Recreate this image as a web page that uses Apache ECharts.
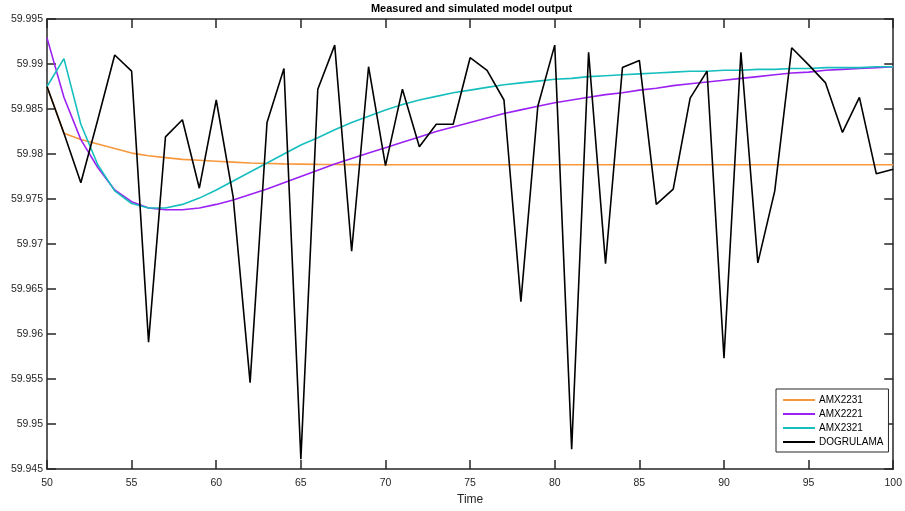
<!DOCTYPE html>
<html>
<head>
<meta charset="utf-8">
<script src="https://cdn.jsdelivr.net/npm/echarts@6/dist/echarts.min.js"></script>
<style>html,body{margin:0;padding:0;background:#fff}#c{width:905px;height:511px}</style>
</head>
<body>
<div id="c"></div>
<script>
const times = [50,51,52,53,54,55,56,57,58,59,60,61,62,63,64,65,66,67,68,69,70,71,72,73,74,75,76,77,78,79,80,81,82,83,84,85,86,87,88,89,90,91,92,93,94,95,96,97,98,99,100];
const amx2231 = [59.9875,59.9823,59.9816,59.9811,59.9806,59.9801,59.9798,59.9796,59.9794,59.9793,59.9792,59.9791,59.9790,59.97895,59.9789,59.97888,59.97885,59.97883,59.97882,59.9788,59.9788,59.9788,59.9788,59.9788,59.9788,59.9788,59.9788,59.9788,59.9788,59.9788,59.9788,59.9788,59.9788,59.9788,59.9788,59.9788,59.9788,59.9788,59.9788,59.9788,59.9788,59.9788,59.9788,59.9788,59.9788,59.9788,59.9788,59.9788,59.9788,59.9788,59.9788];
const amx2221 = [59.9929,59.9863,59.9816,59.9785,59.9760,59.9747,59.9740,59.9738,59.9738,59.9740,59.9744,59.9749,59.9755,59.9761,59.9768,59.9775,59.9782,59.9789,59.9795,59.9801,59.9807,59.9813,59.9819,59.9825,59.9830,59.9835,59.9840,59.9845,59.9849,59.9853,59.9857,59.9860,59.9863,59.9866,59.9868,59.9871,59.9873,59.9876,59.9878,59.9880,59.9882,59.9884,59.9886,59.9888,59.9890,59.9891,59.9893,59.9894,59.9895,59.9896,59.9897];
const amx2321 = [59.9875,59.9906,59.9833,59.9788,59.9759,59.9745,59.9740,59.9740,59.9744,59.9751,59.9760,59.9770,59.9780,59.9790,59.9800,59.9810,59.9818,59.9827,59.9835,59.9842,59.9849,59.9855,59.9860,59.9864,59.9868,59.9871,59.9874,59.9877,59.9879,59.9881,59.9883,59.9884,59.9886,59.9887,59.9888,59.9889,59.9890,59.9891,59.9892,59.9892,59.9893,59.9893,59.9894,59.9894,59.9895,59.9895,59.9896,59.9896,59.9896,59.9897,59.9897];
const dogrulama = [59.9875,59.9823,59.9768,59.9838,59.9910,59.9892,59.9591,59.9819,59.9838,59.9762,59.9860,59.9752,59.9546,59.9835,59.9895,59.9461,59.9872,59.9921,59.9692,59.9897,59.9787,59.9872,59.9808,59.9833,59.9833,59.9907,59.9893,59.9860,59.9636,59.9853,59.9921,59.9472,59.9913,59.9678,59.9896,59.9904,59.9744,59.9761,59.9862,59.9892,59.9573,59.9913,59.9679,59.9759,59.9918,59.9899,59.9879,59.9824,59.9863,59.9778,59.9783];
const seriesNames = ['AMX2231','AMX2221','AMX2321','DOGRULAMA'];
const seriesColors = ['#f7983c','#9b22f2','#17bebe','#000000'];
const seriesData = [amx2231, amx2221, amx2321, dogrulama];

const chart = echarts.init(document.getElementById('c'), null, {renderer:'canvas'});
const font = 'Liberation Sans, Arial, Helvetica, sans-serif';
const axisColor = '#262626';
const xBase = {
  type:'value', min:50, max:100, interval:5,
  axisLine:{show:true, onZero:false, lineStyle:{color:axisColor, width:1.5}},
  axisTick:{show:true, inside:true, length:9, lineStyle:{color:axisColor, width:1.5}},
  splitLine:{show:false}
};
const yBase = {
  type:'value', min:59.945, max:59.995, interval:0.005,
  axisLine:{show:true, onZero:false, lineStyle:{color:axisColor, width:1.5}},
  axisTick:{show:true, inside:true, length:9, lineStyle:{color:axisColor, width:1.5}},
  splitLine:{show:false}
};
chart.setOption({
  animation:false,
  backgroundColor:'#ffffff',
  title:{text:'Measured and simulated model output', left:471.5, textAlign:'center', top:3, padding:0,
    textStyle:{fontFamily:font, fontSize:11, fontWeight:'bold', color:'#000'}},
  grid:{left:47, right:9, top:19, bottom:39.5, containLabel:false},
  legend:{
    orient:'vertical', left:776, top:389, data:seriesNames,
    icon:'rect', itemWidth:32, itemHeight:2, itemGap:0,
    padding:[4,5,3,7], borderColor:axisColor, borderWidth:1, backgroundColor:'#fff',
    textStyle:{fontFamily:font, fontSize:10, lineHeight:14, color:'#000', padding:[0,0,0,-1]}
  },
  xAxis:[
    Object.assign({}, xBase, {position:'bottom', name:'Time', nameLocation:'middle', nameGap:25,
      nameTextStyle:{fontFamily:font, fontSize:12, color:axisColor},
      axisLabel:{fontFamily:font, fontSize:10.5, color:axisColor, margin:9}}),
    Object.assign({}, xBase, {position:'top', axisLabel:{show:false}})
  ],
  yAxis:[
    Object.assign({}, yBase, {position:'left',
      axisLabel:{fontFamily:font, fontSize:10.5, color:axisColor, margin:4,
        formatter:v => String(parseFloat(v.toFixed(3)))}}),
    Object.assign({}, yBase, {position:'right', axisLabel:{show:false}})
  ],
  series: seriesNames.map((n,i) => ({
    name:n, type:'line', xAxisIndex:0, yAxisIndex:0,
    data: times.map((t,j) => [t, seriesData[i][j]]),
    symbol:'none', showSymbol:false, smooth:false,
    lineStyle:{color:seriesColors[i], width:1.6},
    itemStyle:{color:seriesColors[i]},
    z: 2 + i
  }))
});
</script>
</body>
</html>
